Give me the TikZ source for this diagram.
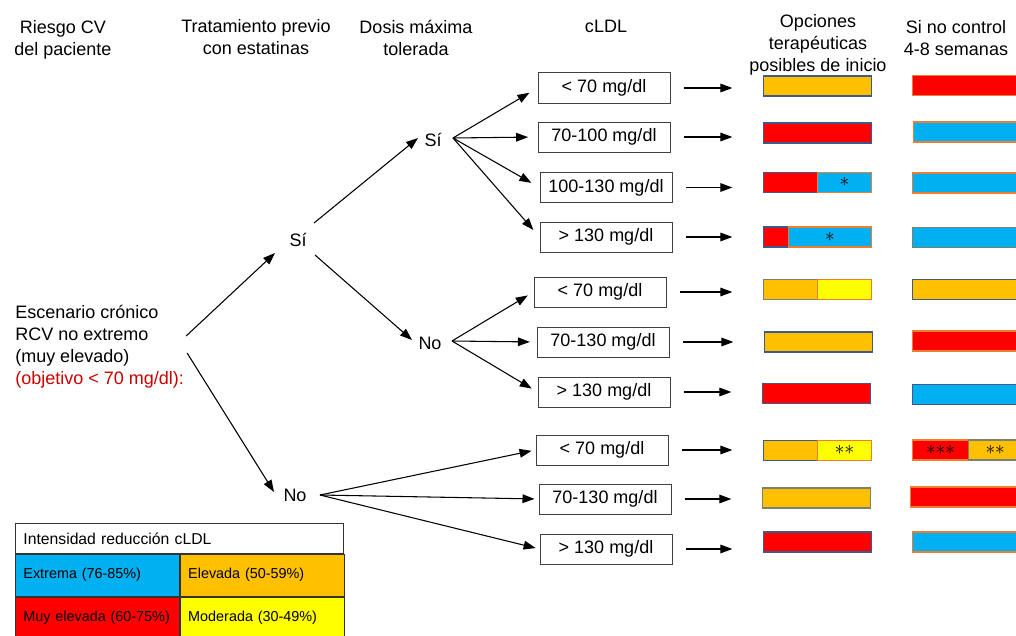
\documentclass[tikz,border=0pt]{standalone}
\usepackage{fontspec}
\setmainfont{Liberation Sans}
\usepackage{tikz}
\usetikzlibrary{positioning, calc, arrows.meta}
\definecolor{barRed}{HTML}{FF0000}
\definecolor{barBlue}{HTML}{00B0F0}
\definecolor{barOrange}{HTML}{FFC000}
\definecolor{barYellow}{HTML}{FFFF00}
\definecolor{goalRed}{HTML}{CC0000}
\definecolor{edgeSlate}{HTML}{3F5A8A}
\definecolor{edgeOrange}{HTML}{ED7D31}
\definecolor{edgeGray}{HTML}{7F7F6F}
\tikzstyle{Arrow} = [
%Create custom arrow style:
line width = 0.8pt,
-{Triangle[length = 9pt, width = 6.5pt]}
]

\begin{document}
\begin{tikzpicture}[
			x = 0.75pt, y = -0.75pt,
			every node/.style = {font = \fontsize{13.5}{16.5}\selectfont},
			heading/.style = {align = center, inner sep = 0pt},
			answer/.style = {inner sep = 0pt},
			ldlbox/.style = {rectangle, draw = black!75, line width = 0.75pt, minimum width = 99pt, minimum height = 22.5pt, inner sep = 0pt},
			colbar/.style = {rectangle, line width = 0.8pt, minimum height = 15pt, inner sep = 0pt, anchor = west, font = \fontsize{15}{15}\selectfont},
			legcell/.style = {rectangle, draw = black!80, line width = 0.6pt, anchor = north west, text width = 111pt, inner xsep = 6pt, inner ysep = 0pt, minimum height = 31.5pt, align = left, font = \fontsize{10.8}{12}\selectfont},
		]

		\useasboundingbox (0,0) rectangle (1016,635);

		% column headings
		\node[heading] (hRisk) at (63,39.4) {Riesgo CV\\del paciente};
		\node[heading] (hPrev) at (256,37.5) {Tratamiento previo\\con estatinas};
		\node[heading] (hDose) at (416,37.5) {Dosis máxima\\tolerada};
		\node[heading] (hLdl) at (606,26.5) {cLDL};
		\node[heading] (hStart) at (818,45.2) {Opciones\\terapéuticas\\posibles de inicio};
		\node[heading] (hFail) at (956,38.5) {Si no control\\4-8 semanas};

		% tree
		\node[anchor = west, align = left, inner sep = 0pt] (esc) at (15,347) {Escenario crónico\\RCV no extremo\\(muy elevado)\\\textcolor{goalRed}{(objetivo < 70 mg/dl):}};
		\node[answer] (siA) at (298,240) {Sí};
		\node[answer] (noA) at (295,495) {No};
		\node[answer] (siB) at (433,140) {Sí};
		\node[answer] (noB) at (430,343) {No};

		\node[ldlbox] (r1) at (604,88) {< 70 mg/dl};
		\node[ldlbox] (r2) at (604,137) {70-100 mg/dl};
		\node[ldlbox] (r3) at (606,187.5) {100-130 mg/dl};
		\node[ldlbox] (r4) at (606,237) {> 130 mg/dl};
		\node[ldlbox] (r5) at (600,292) {< 70 mg/dl};
		\node[ldlbox] (r6) at (603,342) {70-130 mg/dl};
		\node[ldlbox] (r7) at (604,392) {> 130 mg/dl};
		\node[ldlbox] (r8) at (602,450) {< 70 mg/dl};
		\node[ldlbox] (r9) at (605,499) {70-130 mg/dl};
		\node[ldlbox] (r10) at (606,549) {> 130 mg/dl};

		\draw[Arrow] ($(esc.east)+(2,-11)$) -- ($(siA)+(-23,13)$);
		\draw[Arrow] ($(esc.east)+(3,6)$) -- ($(noA)+(-21,-3)$);
		\draw[Arrow] ($(siA)+(16,-17)$) -- ($(siB)+(-15,-2)$);
		\draw[Arrow] ($(siA)+(17,15)$) -- ($(noB)+(-18,-3)$);

		\foreach \r in {r1, r2, r3, r4}
			\draw[Arrow, shorten >= 7pt] ($(siB)+(20,-2)$) -- (\r.west);
		\foreach \r in {r5, r6, r7}
			\draw[Arrow, shorten >= 5pt] ($(noB)+(22,-2)$) -- (\r.west);
		\foreach \r in {r8, r9, r10}
			\draw[Arrow, shorten >= 3pt] ($(noA)+(25,0)$) -- (\r.west);

		% opciones terapeuticas de inicio
		\node[colbar, fill = barOrange, draw = edgeSlate, minimum width = 81pt] (o1) at (763,86) {};
		\node[colbar, fill = barRed, draw = edgeSlate, minimum width = 81pt] (o2) at (763,133) {};
		\node[colbar, fill = barRed, draw = edgeSlate, minimum width = 40.5pt] (o3) at (763,182.5) {};
		\node[colbar, fill = barBlue, draw = edgeOrange, minimum width = 40.5pt] (o3b) at (817,182.5) {$\ast$};
		\node[colbar, fill = barRed, draw = edgeSlate, minimum width = 18.75pt] (o4) at (763,237) {};
		\node[colbar, fill = barBlue, draw = edgeOrange, minimum width = 62.25pt] (o4b) at (788,237) {$\ast$};
		\node[colbar, fill = barOrange, draw = edgeGray, minimum width = 40.5pt] (o5) at (763,289.5) {};
		\node[colbar, fill = barYellow, draw = edgeOrange, minimum width = 40.5pt] (o5b) at (817,289.5) {};
		\node[colbar, fill = barOrange, draw = edgeSlate, minimum width = 81pt] (o6) at (764,342) {};
		\node[colbar, fill = barRed, draw = edgeSlate, minimum width = 81pt] (o7) at (762,393.5) {};
		\node[colbar, fill = barOrange, draw = edgeSlate, minimum width = 40.5pt] (o8) at (763,450.5) {};
		\node[colbar, fill = barYellow, draw = edgeOrange, minimum width = 40.5pt] (o8b) at (817,450.5) {${\ast}{\ast}$};
		\node[colbar, fill = barOrange, draw = edgeGray, minimum width = 81pt] (o9) at (762,498) {};
		\node[colbar, fill = barRed, draw = edgeSlate, minimum width = 81pt] (o10) at (763,542) {};

		% si no control
		\node[colbar, fill = barRed, draw = edgeOrange, minimum width = 82pt] (c1) at (912,85.5) {};
		\node[colbar, fill = barBlue, draw = edgeOrange, minimum width = 82pt] (c2) at (913,132) {};
		\node[colbar, fill = barBlue, draw = edgeOrange, minimum width = 82pt] (c3) at (912,183) {};
		\node[colbar, fill = barBlue, draw = edgeGray, minimum width = 82pt] (c4) at (912,237.5) {};
		\node[colbar, fill = barOrange, draw = edgeSlate, minimum width = 82pt] (c5) at (912,289.5) {};
		\node[colbar, fill = barRed, draw = edgeOrange, minimum width = 82pt] (c6) at (912,341) {};
		\node[colbar, fill = barBlue, draw = edgeSlate, minimum width = 82pt] (c7) at (912,394.5) {};
		\node[colbar, fill = barRed, draw = edgeOrange, minimum width = 42pt] (c8) at (912,450) {${\ast}{\ast}{\ast}$};
		\node[colbar, fill = barOrange, draw = edgeGray, minimum width = 40pt] (c8b) at (968,450) {${\ast}{\ast}$};
		\node[colbar, fill = barRed, draw = edgeOrange, minimum width = 83pt] (c9) at (910,497) {};
		\node[colbar, fill = barBlue, draw = edgeOrange, minimum width = 82pt] (c10) at (912,542) {};

		\foreach \i in {1,...,10}
			\draw[Arrow, shorten <= 10pt, shorten >= 23pt] (r\i.east) -- (r\i.east -| o\i.west);

		% leyenda
		\node[legcell, fill = white, text width = 234pt, minimum height = 22.5pt, font = \fontsize{11.8}{13}\selectfont] (legHead) at (15,523) {Intensidad reducción cLDL};
		\node[legcell, fill = barBlue] (legExt) at (legHead.south west) {Extrema (76-85\%)};
		\node[legcell, fill = barOrange] (legElev) at (legExt.north east) {Elevada (50-59\%)};
		\node[legcell, fill = barRed] (legMuy) at (legExt.south west) {Muy elevada (60-75\%)};
		\node[legcell, fill = barYellow] (legMod) at (legMuy.north east) {Moderada (30-49\%)};

	\end{tikzpicture}
\end{document}
